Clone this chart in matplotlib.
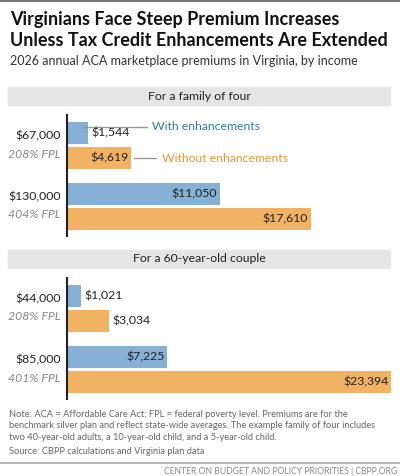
import matplotlib.pyplot as plt
from matplotlib.patches import Rectangle

plt.rcParams['font.family'] = ['Lato', 'DejaVu Sans']

panels = ["For a family of four", "For a 60-year-old couple"]
incomes = [["$67,000", "$130,000"], ["$44,000", "$85,000"]]
fpl = [["208% FPL", "404% FPL"], ["208% FPL", "401% FPL"]]
with_enh = [[1544, 11050], [1021, 7225]]
without_enh = [[4619, 17610], [3034, 23394]]

BLUE = "#86b0d5"
ORANGE = "#f2b263"
BLUE_TXT = "#3574b0"
ORANGE_TXT = "#e8962e"

W, H = 400, 476
fig = plt.figure(figsize=(W / 100, H / 100), dpi=100)

def fx(px):
    return px / W

def fy(py):
    return 1 - py / H

# top rule
fig.add_artist(plt.Line2D([0, 1], [fy(1), fy(1)], color="#777777", lw=1.5))
fig.text(fx(10), fy(20), "Virginians Face Steep Premium Increases", fontsize=13,
         fontweight="bold", va="center", color="#111111")
fig.text(fx(10), fy(40), "Unless Tax Credit Enhancements Are Extended", fontsize=13,
         fontweight="bold", va="center", color="#111111")
fig.text(fx(10), fy(61), "2026 annual ACA marketplace premiums in Virginia, by income",
         fontsize=9, va="center", color="#333333")

header_y = [87, 250]
axis_top = [115, 278]
xmax = 23394

for p in range(2):
    fig.add_artist(Rectangle((fx(8), fy(header_y[p] + 18)), fx(382), 18 / H,
                             color="#e5e5e5", transform=fig.transFigure, zorder=0))
    fig.text(0.5 * (fx(8) + fx(390)), fy(header_y[p] + 9), panels[p], ha="center",
             va="center", fontsize=8.8, color="#222222")

    ax = fig.add_axes([fx(67), fy(axis_top[p] + 121), fx(391) - fx(67), 121 / H])
    ax.set_xlim(0, xmax)
    ax.set_ylim(3.62, -1.22)
    ax.axis("off")
    ax.axvline(0, color="#222222", lw=1.5, clip_on=False)
    for g in range(2):
        c = g * 2.44
        for val, off, col in [(with_enh[p][g], -0.5, BLUE), (without_enh[p][g], 0.5, ORANGE)]:
            ax.barh(c + off, val, height=0.88, color=col)
            lab = f"${val:,}"
            if val < 4000:
                ax.text(val + 250, c + off, lab, va="center", ha="left", fontsize=8.8, color="#222222")
            else:
                ax.text(val - 200, c + off, lab, va="center", ha="right", fontsize=8.8, color="#222222")
        ax.text(-430, c - 0.15, incomes[p][g], ha="right", va="bottom", fontsize=8.8, color="#222222")
        ax.text(-430, c + 0.12, fpl[p][g], ha="right", va="top", fontsize=8.8,
                style="italic", color="#888888")
    if p == 0:
        wv, wov = with_enh[0][0], without_enh[0][0]
        ax.plot([wv - 400, wv + 4200], [-0.75, -0.75], color="#999999", lw=1)
        ax.text(wv + 4600, -0.75, "With enhancements", va="center", fontsize=8.8, color=BLUE_TXT)
        ax.plot([wov + 250, wov + 1800], [0.5, 0.5], color="#999999", lw=1)
        ax.text(wov + 2250, 0.5, "Without enhancements", va="center", fontsize=8.8, color=ORANGE_TXT)

notes = ("Note: ACA = Affordable Care Act; FPL = federal poverty level. Premiums are for the\n"
         "benchmark silver plan and reflect state-wide averages. The example family of four includes\n"
         "two 40-year-old adults, a 10-year-old child, and a 5-year-old child.")
fig.text(fx(9), fy(426), notes, fontsize=6.7, va="center", color="#666666", linespacing=1.3)
fig.text(fx(9), fy(451), "Source: CBPP calculations and Virginia plan data", fontsize=6.7,
         va="center", color="#666666")
fig.add_artist(plt.Line2D([0, 1], [fy(463), fy(463)], color="#aaaaaa", lw=1.2))
fig.text(fx(397), fy(471), "CENTER ON BUDGET AND POLICY PRIORITIES | CBPP.ORG", fontsize=6.2,
         ha="right", va="center", color="#888888")

fig.savefig("out.png", dpi=100)
